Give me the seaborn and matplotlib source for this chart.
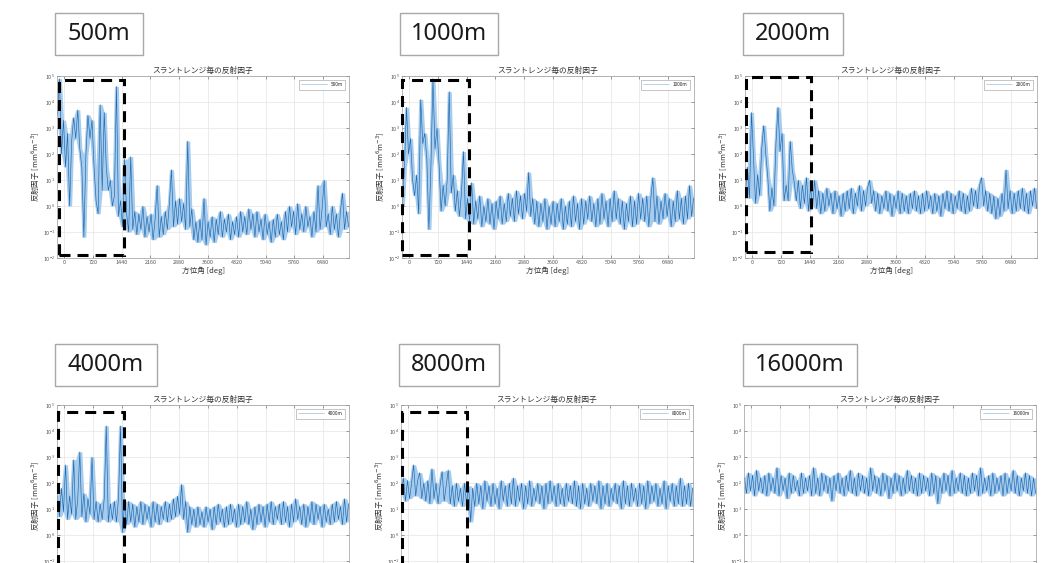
import numpy as np
import pandas as pd
import matplotlib
matplotlib.use('Agg')
import matplotlib.pyplot as plt
from matplotlib.patches import Rectangle
from matplotlib.ticker import FixedLocator, NullLocator
import seaborn as sns

# ---- data (log10 of the reflectivity) ----
range_names = ['500m', '1000m', '2000m', '4000m', '8000m', '16000m']
az_ticks = [0, 720, 1440, 2160, 2880, 3600, 4320, 5040, 5760, 6480]
az_start, az_end = -170, 7120

log_refl_500 = [
    3.5, 4.9, 2.0, 3.3, 1.5, 2.8, 0.0, 2.5, 3.4, 2.6, 3.7, 2.2, 1.5, -1.2, 2.0, 3.5, 2.6,
    3.3, 1.5, 0.2, -0.3, 3.9, 0.6, 3.6, 1.5, 0.6, 1.0, 0.0, 0.4, 4.6, -0.4, 0.2, -0.8, 1.8,
    -0.3, -1.0, 1.9, -0.9, -0.2, -1.1, -0.3, -0.9, 0.0, -1.2,
    -0.4, -1.0, -0.3, -1.3, -0.5, 0.8, -1.2, -0.4, -1.1, -0.2,
    -0.9, 0.1, 1.4, -0.8, 0.2, -0.7, 0.3, -0.6, 0.1, -0.9,
    2.5, -0.8, -0.1, -1.3, -0.6, -1.4, -0.5, -1.3, 0.3, -1.5,
    -0.6, -1.2, -0.4, -1.4, -0.5, -1.1, -0.2, -1.2, -0.5, -1.0,
    -0.3, -1.3, -0.6, -1.1, -0.4, -1.2, -0.2, -1.0, -0.4, -1.1,
    -0.1, -0.9, -0.3, -1.2, -0.2, -1.0, -0.5, -1.3, -0.3, -1.1,
    -0.6, -1.4, -0.5, -1.2, -0.3, -1.1, -0.6, -1.3, -0.2, -1.0,
    0.0, -0.8, -0.2, -1.1, 0.1, -0.9, -0.3, -1.0, 0.0, -0.8,
    -0.4, -1.2, -0.2, -1.0, 0.8, -0.9, -0.1, 1.0, -0.8, -0.3,
    -1.1, 0.0, -0.9, -0.3, -1.2, -0.2, 0.5, -0.9, -0.2, -0.8,
]
log_refl_1000 = [
    0.0, 1.5, 3.8, 2.0, 2.6, 1.0, 0.4, 1.2, -0.3, 4.1, 2.4, 2.8, 1.8, -0.9, 1.5, 4.9, 2.2,
    3.0, 1.6, -0.2, 0.8, 0.0, 1.0, 4.4, 0.5, 1.2, -0.2, 0.6, -0.4, 0.5, 2.1, -0.5, 0.3, -0.6,
    0.9, -0.7, 0.2, -0.5, 0.4, -0.8, 0.0, -0.6, 0.3, -0.7,
    0.1, -0.9, 0.2, -0.5, 0.4, -0.7, 0.1, -0.6, 0.5, -0.4,
    0.3, -0.6, 0.6, -0.3, 0.4, -0.5, 0.5, -0.2, 1.3, -0.4,
    0.3, -0.7, 0.2, -0.8, 0.1, -0.6, 0.3, -0.9, 0.0, -0.7,
    0.2, -0.8, 0.1, -0.6, 0.3, -0.9, 0.0, -0.7, 0.2, -0.8,
    0.4, -0.6, 0.1, -0.9, 0.3, -0.7, 0.2, -0.5, 0.4, -0.6,
    0.1, -0.8, 0.3, -0.7, 0.5, -0.5, 0.2, -0.8, 0.3, -0.6,
    0.6, -0.5, 0.3, -0.7, 0.2, -0.9, 0.1, -0.6, 0.4, -0.8,
    0.2, -0.7, 0.5, -0.5, 0.3, -0.6, 0.4, -0.8, 0.3, 1.1,
    -0.6, 0.4, -0.7, 0.2, -0.5, 0.5, -0.4, 0.3, -0.8, 0.2,
    -0.6, 0.6, -0.5, 0.3, -0.7, 0.4, -0.5, 0.8, -0.4, 0.3,
]
log_refl_2000 = [
    0.5, 1.5, 0.3, 3.6, 1.8, 0.1, 1.2, 0.4, 2.2, 3.1, 2.0, 1.1, -0.2, 0.7, 0.0, 2.4, 3.8,
    2.1, 2.8, 0.2, 0.8, 0.2, 2.5, 1.4, 0.9, 0.2, 1.0, -0.1, 0.8, 0.1, 1.1, -0.2, 0.7, 0.0,
    1.0, -0.1, 0.6, -0.3, 0.5, -0.2, 0.7, 0.0, 0.5, -0.3,
    0.6, -0.1, 0.4, -0.4, 0.5, -0.2, 0.6, -0.1, 0.7, -0.3,
    0.5, 0.0, 0.8, -0.2, 0.6, 0.0, 0.7, 1.0, 0.1, 0.6,
    -0.2, 0.5, -0.3, 0.4, -0.1, 0.6, -0.2, 0.5, -0.4, 0.4,
    -0.1, 0.6, -0.3, 0.5, -0.2, 0.4, -0.3, 0.5, -0.1, 0.6,
    -0.2, 0.4, -0.3, 0.5, -0.2, 0.6, -0.1, 0.4, -0.3, 0.5,
    -0.2, 0.4, -0.4, 0.5, -0.1, 0.6, -0.2, 0.5, -0.3, 0.4,
    -0.1, 0.6, -0.2, 0.5, -0.3, 0.4, -0.2, 0.7, 0.0, 0.6,
    -0.1, 0.8, 1.1, 0.0, 0.6, -0.2, 0.5, -0.3, 0.4, -0.5,
    0.3, -0.4, 0.5, -0.2, 1.4, -0.1, 0.6, -0.3, 0.5, -0.2,
    0.6, -0.1, 0.7, -0.2, 0.5, -0.3, 0.6, 0.0, 0.7, -0.1,
]
log_refl_4000 = [
    1.5, 0.7, 1.8, 0.9, 2.7, 0.6, 1.5, 0.8, 2.9, 0.6, 1.4, 3.2, 0.7, 1.6, 0.5, 1.4, 0.8,
    3.0, 0.6, 1.3, 0.5, 1.2, 0.6, 1.4, 4.2, 0.5, 1.2, 0.6, 1.3, 0.5, 1.4, 4.2, 0.1, 1.3,
    0.4, 1.3, 0.5, 1.2, 0.3, 1.1, 0.5, 1.3, 0.4, 1.2,
    0.6, 1.1, 0.3, 1.3, 0.5, 1.2, 0.4, 1.1, 0.6, 1.3,
    0.5, 1.2, 0.6, 1.4, 0.7, 1.5, 0.8, 1.95, 0.6, 1.3,
    0.1, 1.1, 0.4, 1.0, 0.3, 1.1, 0.4, 0.9, 0.3, 1.1,
    0.5, 1.0, 0.2, 1.1, 0.4, 1.2, 0.5, 1.0, 0.3, 1.1,
    0.4, 1.2, 0.5, 1.0, 0.3, 1.2, 0.4, 1.1, 0.5, 1.3,
    0.4, 1.0, 0.2, 1.1, 0.4, 1.2, 0.5, 1.1, 0.3, 1.2,
    0.5, 1.3, 0.4, 1.1, 0.6, 1.2, 0.4, 1.3, 0.5, 1.1,
    0.3, 1.2, 0.5, 1.4, 0.6, 1.1, 0.4, 1.2, 0.3, 1.1,
    0.5, 1.3, 0.4, 1.2, 0.6, 1.1, 0.3, 1.2, 0.5, 1.0,
    0.4, 1.2, 0.5, 1.3, 0.6, 1.1, 0.4, 1.4, 0.5, 1.2,
]
log_refl_8000 = [
    1.6, 2.2, 1.3, 2.1, 1.4, 2.0, 2.7, 1.5, 2.1, 2.4, 1.4, 2.0, 1.3, 2.1, 1.2, 2.55, 1.4,
    2.0, 1.2, 1.9, 2.45, 1.3, 1.9, 2.5, 1.2, 1.9, 1.1, 2.0, 1.3, 1.8, 1.1, 2.0, 1.2, 1.9,
    0.5, 1.8, 1.1, 2.0, 1.2, 1.9, 1.0, 2.1, 1.3, 1.9,
    1.1, 2.0, 1.2, 1.8, 1.0, 2.1, 1.3, 1.9, 1.1, 2.0,
    1.2, 2.2, 1.1, 1.9, 1.3, 2.0, 1.0, 1.9, 1.2, 2.1,
    1.1, 1.8, 1.3, 2.0, 1.2, 1.9, 1.0, 2.0, 1.2, 2.1,
    1.3, 1.9, 1.1, 2.0, 1.2, 1.8, 1.1, 2.0, 1.3, 1.9,
    1.2, 2.1, 1.1, 1.9, 1.0, 2.0, 1.2, 1.8, 1.1, 2.0,
    1.3, 1.9, 1.2, 2.1, 1.0, 1.9, 1.2, 2.0, 1.1, 1.8,
    1.3, 2.0, 1.2, 1.9, 1.0, 2.1, 1.2, 1.9, 1.1, 2.0,
    1.3, 1.8, 1.1, 2.0, 1.2, 1.9, 1.0, 2.1, 1.2, 1.9,
    1.3, 2.0, 1.1, 1.8, 1.2, 2.1, 1.0, 1.9, 1.3, 2.0,
    1.1, 1.9, 1.2, 2.2, 1.1, 1.9, 1.2, 2.0, 1.1, 1.8,
]
log_refl_16000 = [
    2.2, 1.6, 2.4, 1.7, 2.3, 1.5, 2.5, 1.7, 2.2, 1.6, 2.3, 1.5,
    2.4, 1.7, 2.2, 1.6, 2.6, 1.5, 2.3, 1.7, 2.2, 1.4, 2.4, 1.6,
    2.3, 1.7, 2.1, 1.5, 2.4, 1.6, 2.2, 1.7, 2.3, 1.5, 2.6, 1.6,
    2.2, 1.5, 2.4, 1.7, 2.3, 1.6, 2.2, 1.3, 2.3, 1.7, 2.4, 1.6,
    2.2, 1.5, 2.3, 1.7, 2.5, 1.6, 2.2, 1.5, 2.4, 1.7, 2.3, 1.6,
    2.2, 1.5, 2.6, 1.7, 2.3, 1.6, 2.2, 1.5, 2.4, 1.7, 2.3, 1.4,
    2.2, 1.6, 2.4, 1.7, 2.3, 1.5, 2.2, 1.6, 2.5, 1.7, 2.3, 1.6,
    2.2, 1.5, 2.4, 1.6, 2.3, 1.7, 2.2, 1.5, 2.4, 1.6, 2.3, 1.2,
    2.2, 1.6, 2.4, 1.7, 2.3, 1.5, 2.5, 1.6, 2.2, 1.7, 2.4, 1.6,
    2.3, 1.5, 2.2, 1.6, 2.4, 1.7, 2.3, 1.5, 2.6, 1.6, 2.2, 1.7,
    2.3, 1.5, 2.4, 1.6, 2.2, 1.7, 2.3, 1.5, 2.4, 1.6, 2.2, 1.7,
    2.5, 1.6, 2.3, 1.5, 2.2, 1.7, 2.4, 1.6, 2.3, 1.5, 2.2, 1.6,
]
series = [log_refl_500, log_refl_1000, log_refl_2000,
          log_refl_4000, log_refl_8000, log_refl_16000]

# ---- layout (pixels of the 1051x563 canvas) ----
W, H = 1051, 563
axes_px = [(57, 76), (402, 76), (745, 76), (57, 405), (401, 405), (744, 405)]
ax_w, ax_h = 292, 182
label_px = [(55, 13, 88, 42), (400, 13, 98, 42), (743, 13, 100, 42),
            (55, 344, 102, 42), (399, 344, 100, 42), (743, 344, 114, 42)]
# dashed highlight boxes in data coords: x0, x1, log y0, log y1
hl_boxes = [(-130, 1497, -1.88, 4.85), (-178, 1495, -1.9, 4.85), (-155, 1470, -1.77, 4.95),
            (-155, 1495, -3.0, 4.73), (-150, 1470, -3.0, 4.73), None]

core_color = '#1a68b0'
band_color = '#a6cbec'

sns.set_theme(style='white')
plt.rcParams['font.family'] = ['Noto Sans CJK JP', 'DejaVu Sans']
plt.rcParams['mathtext.fontset'] = 'dejavusans'

fig = plt.figure(figsize=(W / 100, H / 100), dpi=100)
fig.patch.set_facecolor('white')

for i, name in enumerate(range_names):
    left, top = axes_px[i]
    ax = fig.add_axes([left / W, 1 - (top + ax_h) / H, ax_w / W, ax_h / H])
    ax.set_yscale('log')

    vals = pd.Series(10 ** np.array(series[i]))
    az = np.linspace(az_start, az_end, len(vals))
    # light band = area swept by the noisy trace, thin darker trace on top
    hi = vals.rolling(3, center=True, min_periods=1).max()
    lo = vals.rolling(3, center=True, min_periods=1).min()
    ax.fill_between(az, lo, hi, color=band_color, lw=0)
    sns.lineplot(x=az, y=vals.values, ax=ax, color=core_color, lw=0.45,
                 label=name, estimator=None, sort=False)

    ax.set_xlim(-180, 7130)
    ax.set_ylim(1e-2, 1e5)
    ax.xaxis.set_major_locator(FixedLocator(az_ticks))
    ax.yaxis.set_minor_locator(NullLocator())
    ax.grid(True, color='#e4e4e4', lw=0.5)
    ax.tick_params(direction='in', length=2, width=0.4, labelsize=3.9,
                   colors='#555555', pad=1.5, top=True, right=True,
                   bottom=True, left=True)
    for sp in ax.spines.values():
        sp.set_color('#9a9a9a')
        sp.set_linewidth(0.5)

    ax.set_title('スラントレンジ毎の反射因子', fontsize=5.6, pad=2, color='#333333')
    ax.set_ylabel('反射因子 [mm$^6$m$^{-3}$]', fontsize=5.4, labelpad=1, color='#333333')
    if i < 3:
        ax.set_xlabel('方位角 [deg]', fontsize=5.5, labelpad=1, color='#333333')
    else:
        # bottom row is cropped by the slide edge below the plot area
        ax.set_xlabel('')
        ax.tick_params(labelbottom=False)

    leg = ax.legend(loc='upper right', fontsize=3.4, frameon=True, fancybox=False,
                    edgecolor='#9a9a9a', framealpha=1, handlelength=5.5,
                    borderpad=0.5, borderaxespad=0.8)
    leg.get_frame().set_linewidth(0.4)
    for h in leg.get_lines():
        h.set_linewidth(0.4)
        h.set_color('#7fb0da')

    if hl_boxes[i] is not None:
        x0, x1, ly0, ly1 = hl_boxes[i]
        rect = Rectangle((x0, 10 ** ly0), x1 - x0, 10 ** ly1 - 10 ** ly0,
                         fill=False, edgecolor='black', lw=2.2,
                         linestyle=(0, (3.6, 2.3)), clip_on=False, zorder=10)
        ax.add_patch(rect)

    # range label box above each panel
    bx, by, bw, bh = label_px[i]
    fig.patches.append(Rectangle((bx / W, 1 - (by + bh) / H), bw / W, bh / H,
                                 transform=fig.transFigure, fill=True,
                                 facecolor='white', edgecolor='#a8a8a8', lw=1.0))
    fig.text((bx + bw / 2) / W, 1 - (by + bh / 2) / H, name, fontsize=17,
             ha='center', va='center', color='#1a1a1a', family=['Noto Sans', 'DejaVu Sans'])

fig.savefig('out.png', dpi=100)
